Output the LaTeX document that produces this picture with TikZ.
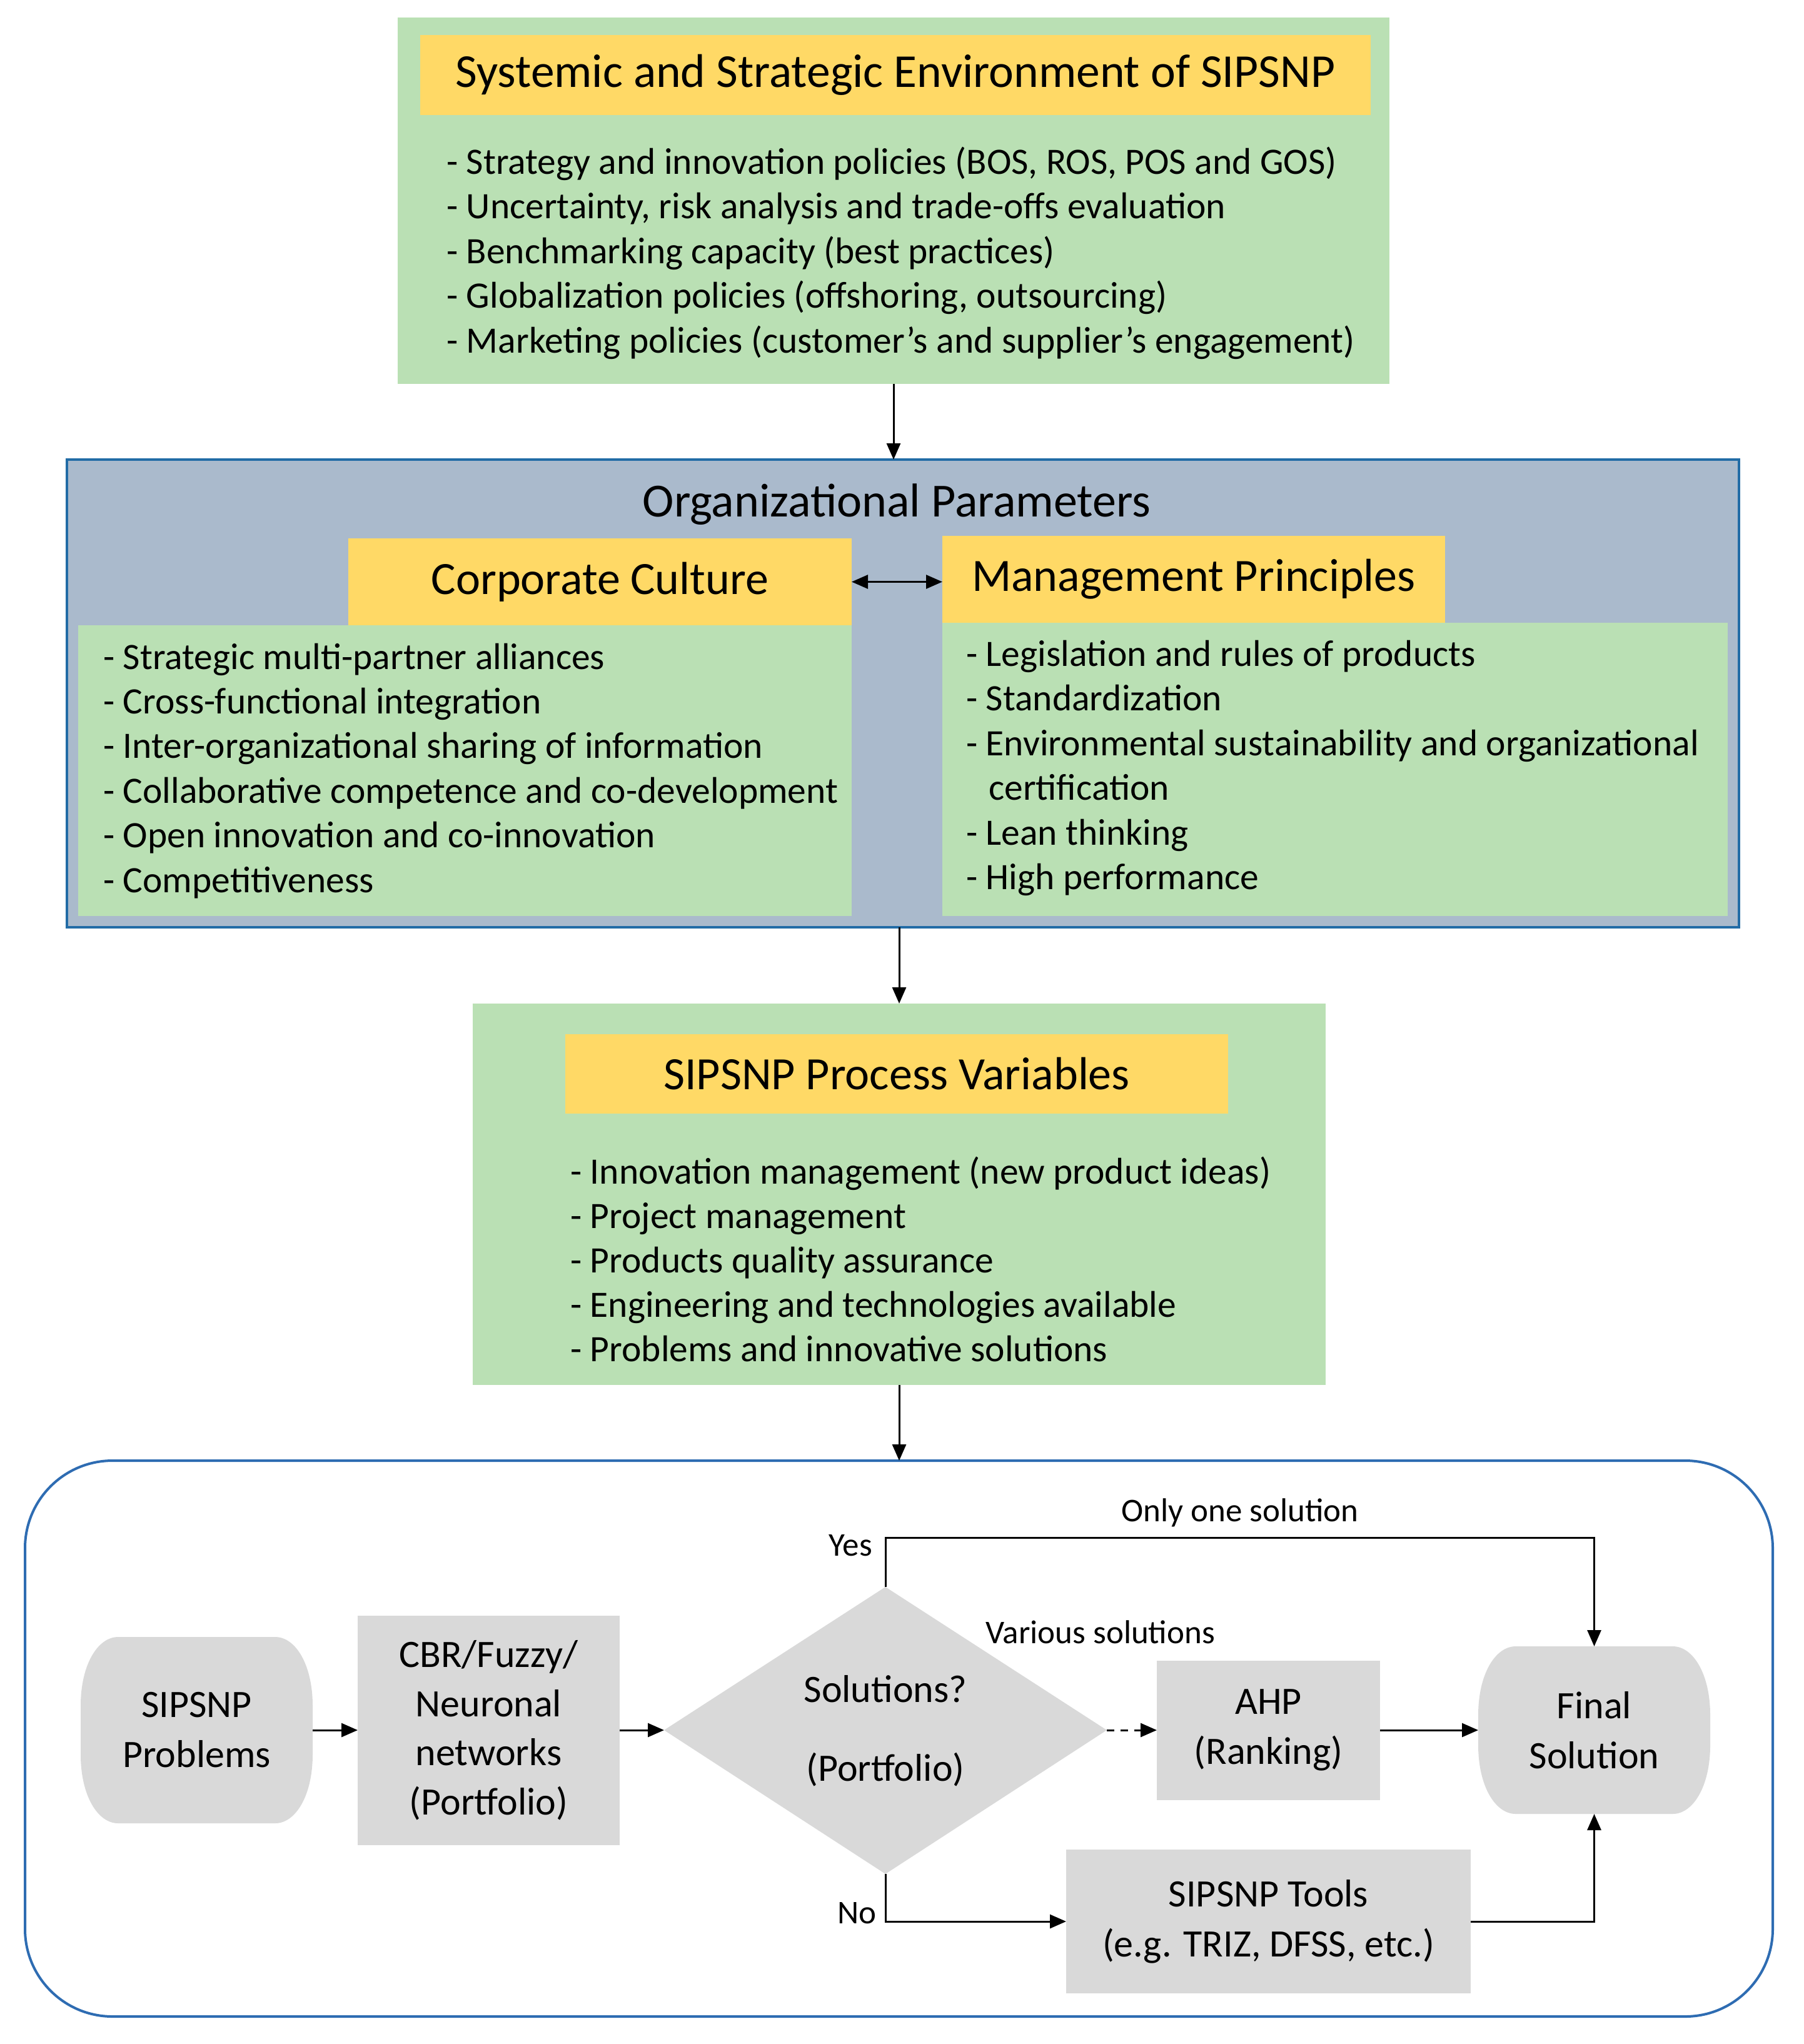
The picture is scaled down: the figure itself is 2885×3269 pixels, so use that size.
\documentclass[tikz,border=0pt]{standalone}
\usepackage{fontspec}
\setmainfont{Carlito}
\usetikzlibrary{arrows.meta}
\definecolor{gfill}{RGB}{186,224,180}
\definecolor{yfill}{RGB}{255,217,102}
\definecolor{bfill}{RGB}{170,186,204}
\definecolor{bline}{RGB}{34,108,166}
\definecolor{fline}{RGB}{46,108,178}
\definecolor{grayfill}{RGB}{217,217,217}
\newcommand{\pillpath}[4]{%
  \fill[grayfill] (#1+60,#2) -- (#3-60,#2) .. controls (#3-27,#2) and (#3,#2+45) .. (#3,#2+110)
   -- (#3,#4-110) .. controls (#3,#4-45) and (#3-27,#4) .. (#3-60,#4)
   -- (#1+60,#4) .. controls (#1+27,#4) and (#1,#4-45) .. (#1,#4-110)
   -- (#1,#2+110) .. controls (#1,#2+45) and (#1+27,#2) .. (#1+60,#2) -- cycle;}
\begin{document}
\begin{tikzpicture}[x=1pt,y=-1pt]
\tikzset{
  gbox/.style={fill=gfill,inner sep=0pt,outer sep=0pt},
  ybox/.style={fill=yfill,inner sep=0pt,outer sep=0pt,font=\fontsize{74}{88}\selectfont},
  bul/.style={anchor=base west,inner sep=0pt,font=\fontsize{59.5}{72}\selectfont},
  graybox/.style={fill=grayfill,inner sep=0pt,outer sep=0pt,align=center,font=\fontsize{62}{80}\selectfont},
  plain/.style={inner sep=0pt,outer sep=0pt,align=center,font=\fontsize{62}{80}\selectfont},
  lab/.style={inner sep=0pt,font=\fontsize{53}{60}\selectfont},
  tip/.tip={Triangle[length=26pt,width=22pt]},
  arr/.style={line width=3pt,-tip},
  darr/.style={line width=3pt,tip-tip},
}
\useasboundingbox[fill=white] (0,0) rectangle (2885,3269);

% ---------- top box ----------
\node[gbox,minimum width=1586pt,minimum height=586pt] (top) at (1429,321) {};
\node[ybox,minimum width=1520pt,minimum height=128pt,font=\fontsize{75.5}{88}\selectfont] (toptitle) at (1432,120) {Systemic and Strategic Environment of SIPSNP};
\foreach \t [count=\i] in {{Strategy and innovation policies (BOS, ROS, POS and GOS)},
  {Uncertainty, risk analysis and trade-offs evaluation},
  {Benchmarking capacity (best practices)},
  {Globalization policies (offshoring, outsourcing)},
  {Marketing policies (customer’s and supplier’s engagement)}}
  \node[bul] (tb\i) at (714,{278+71.5*(\i-1)}) {- \t};

% ---------- organizational parameters ----------
\node[fill=bfill,draw=bline,line width=4pt,inner sep=0pt,outer sep=0pt,minimum width=2674pt,minimum height=748pt] (org) at (1444,1109) {};
\node[inner sep=0pt,anchor=base,font=\fontsize{76}{88}\selectfont] (orgtitle) at (1434,826) {Organizational Parameters};
\node[gbox,minimum width=1237pt,minimum height=465pt] (ccg) at (743.5,1232.5) {};
\node[ybox,minimum width=805pt,minimum height=139pt] (cc) at (959.5,930.5) {Corporate Culture};
\node[gbox,minimum width=1256pt,minimum height=469pt] (mpg) at (2135,1230.5) {};
\node[ybox,minimum width=804pt,minimum height=139pt] (mp) at (1909,926.5) {Management Principles};
\foreach \t [count=\i] in {{Strategic multi-partner alliances},
  {Cross-functional integration},
  {Inter-organizational sharing of information},
  {Collaborative competence and co-development},
  {Open innovation and co-innovation},
  {Competitiveness}}
  \node[bul] (cb\i) at (165,{1070+71.4*(\i-1)}) {- \t};
\node[bul] (mb1) at (1545,1065) {- Legislation and rules of products};
\node[bul] (mb2) at (1545,1136.5) {- Standardization};
\node[bul] (mb3) at (1545,1208) {- Environmental sustainability and organizational};
\node[bul] (mb3b) at (1581,1279.5) {certification};
\node[bul] (mb4) at (1545,1351) {- Lean thinking};
\node[bul] (mb5) at (1545,1422.5) {- High performance};
\draw[darr] (cc.east) -- (cc.east -| mp.west);

% ---------- process variables ----------
\node[gbox,minimum width=1364pt,minimum height=610pt] (proc) at (1438,1910) {};
\node[ybox,minimum width=1060pt,minimum height=127pt] (proctitle) at (1434,1717.5) {SIPSNP Process Variables};
\foreach \t [count=\i] in {{Innovation management (new product ideas)},
  {Project management},
  {Products quality assurance},
  {Engineering and technologies available},
  {Problems and innovative solutions}}
  \node[bul] (pb\i) at (912,{1893+71*(\i-1)}) {- \t};

% ---------- bottom frame ----------
\node[draw=fline,line width=4pt,rounded corners=140pt,inner sep=0pt,outer sep=0pt,minimum width=2795pt,minimum height=889pt] (frame) at (1437.5,2780.5) {};

% main vertical arrows
\draw[arr] (top.south) -- (top.south |- org.north);
\draw[arr] (proc.north |- org.south) -- (proc.north);
\draw[arr] (proc.south) -- (proc.south |- frame.north);

% flowchart shapes
\pillpath{129}{2618}{500}{2916}
\node[plain,minimum width=371pt,minimum height=298pt] (prob) at (314.5,2767) {SIPSNP\\Problems};
\node[graybox,minimum width=419pt,minimum height=367pt,font=\fontsize{62}{78.5}\selectfont] (cbr) at (781.5,2767) {CBR/Fuzzy/\\Neuronal\\networks\\(Portfolio)};
\coordinate (dN) at (1416,2538);
\coordinate (dS) at (1416,2997);
\coordinate (dW) at (1062,2767);
\coordinate (dE) at (1770,2767);
\fill[grayfill] (dN) -- (dE) -- (dS) -- (dW) -- cycle;
\node[plain,font=\fontsize{62}{126}\selectfont] (dia) at (1416,2768) {Solutions?\\(Portfolio)};
\node[graybox,minimum width=357pt,minimum height=223pt] (ahp) at (2028.5,2767) {AHP\\(Ranking)};
\pillpath{2364}{2633}{2735}{2901}
\node[plain,minimum width=371pt,minimum height=268pt] (fin) at (2549.5,2767) {Final\\Solution};
\node[graybox,minimum width=647pt,minimum height=230pt] (tools) at (2028.5,3073) {SIPSNP Tools\\(e.g. TRIZ, DFSS, etc.)};

% labels
\node[lab,anchor=base east] (yes) at (1395,2488) {Yes};
\node[lab,anchor=base] (only) at (1983,2433) {Only one solution};
\node[lab,anchor=base] (various) at (1760,2628) {Various solutions};
\node[lab,anchor=base east] (no) at (1402,3076) {No};

% flowchart connectors
\draw[arr] (prob.east) -- (cbr.west);
\draw[arr] (cbr.east) -- (dW);
\draw[line width=3pt,dash pattern=on 12pt off 10pt,-tip] (dE) -- (ahp.west);
\draw[arr] (ahp.east) -- (fin.west);
\draw[arr] (dN) -- (1416,2459) -| (fin.north);
\draw[arr] (dS) |- (tools.west);
\draw[arr] (tools.east) -| (fin.south);
\end{tikzpicture}
\end{document}
